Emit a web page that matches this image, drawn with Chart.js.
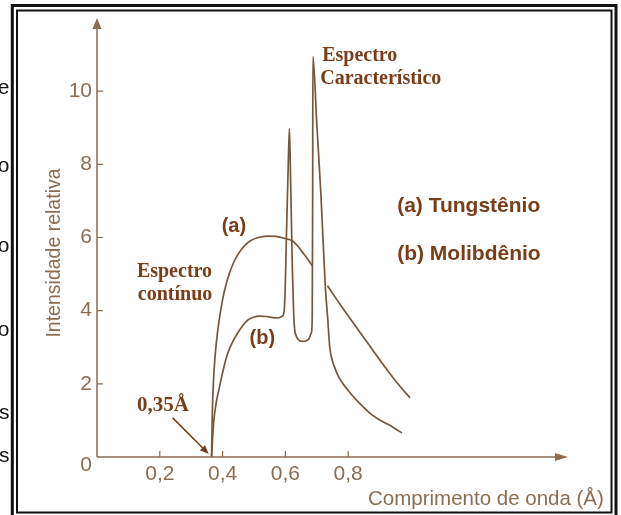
<!DOCTYPE html>
<html>
<head>
<meta charset="utf-8">
<title>Espectro de raios X</title>
<script src="https://cdn.jsdelivr.net/npm/chart.js@4.4.1/dist/chart.umd.min.js"></script>
<style>
  html, body { margin: 0; padding: 0; background: #ffffff; }
  #chart { display: block; }
</style>
</head>
<body>
<canvas id="chart" width="621" height="515"></canvas>
<script>
// Espectro de raios X: (a) tungstênio e (b) molibdênio

// (a) Tungstênio - contínuo (passa por trás dos picos do Mo)
const wavelengthW = [0.365, 0.3667, 0.3705, 0.376, 0.383, 0.391, 0.400, 0.410, 0.422, 0.436, 0.452, 0.470, 0.490, 0.515, 0.545, 0.570, 0.597, 0.622, 0.640, 0.654, 0.670, 0.686, 0.710, 0.734, 0.760, 0.790, 0.820, 0.850, 0.880, 0.910, 0.940, 0.970, 0.997]
const intensityW = [0, 1.0, 2.0, 2.75, 3.35, 3.85, 4.3, 4.68, 5.03, 5.33, 5.58, 5.78, 5.92, 6.00, 6.04, 6.03, 5.98, 5.91, 5.76, 5.60, 5.42, 5.22, null, 4.68, 4.35, 3.98, 3.62, 3.26, 2.90, 2.54, 2.20, 1.88, 1.62]

// (b) Molibdênio - contínuo + picos K-beta e K-alfa
const wavelengthMo = [0.365, 0.368, 0.3724, 0.380, 0.3905, 0.403, 0.417, 0.432, 0.449, 0.465, 0.480, 0.498, 0.517, 0.540, 0.560, 0.575, 0.588, 0.595, 0.599, 0.603, 0.608, 0.6127, 0.6159, 0.619, 0.6222, 0.6254, 0.6286, 0.635, 0.644, 0.654, 0.664, 0.673, 0.683, 0.6855, 0.6868, 0.6875, 0.700, 0.7133, 0.727, 0.735, 0.741, 0.747, 0.756, 0.767, 0.781, 0.800, 0.825, 0.850, 0.876, 0.903, 0.930, 0.952, 0.971]
const intensityMo = [0, 0.5, 1.02, 1.5, 1.93, 2.42, 2.85, 3.15, 3.40, 3.60, 3.74, 3.82, 3.85, 3.84, 3.81, 3.80, 3.84, 3.93, 4.5, 5.96, 7.61, 8.98, 7.88, 6.51, 5.14, 4.18, 3.57, 3.30, 3.19, 3.16, 3.17, 3.21, 3.41, 3.85, 7.0, 10.95, 9.1, 7.14, 4.67, 3.76, 3.02, 2.72, 2.47, 2.24, 2.03, 1.82, 1.57, 1.35, 1.15, 1.00, 0.88, 0.76, 0.66]

const yTickValues = [2, 4, 6, 8, 10]
const xTickValues = [0.2, 0.4, 0.6, 0.8]
const xTickLabels = ["0,2", "0,4", "0,6", "0,8"]

const lineColor = "#74573d"
const axisColor = "#8b6d53"
const noteColor = "#7a3d17"
const serifBold = "bold 20px 'Liberation Serif', 'Times New Roman', serif"
const sansBold = "bold 20px 'Liberation Sans', Arial, sans-serif"
const sansBoldBig = "bold 21px 'Liberation Sans', Arial, sans-serif"

// textos anotados (posição em unidades dos eixos, linha de base)
const notes = [
  { text: "Espectro", x: 0.717, y: 10.82, font: serifBold },
  { text: "Característico", x: 0.711, y: 10.19, font: serifBold },
  { text: "Espectro", x: 0.127, y: 4.92, font: serifBold },
  { text: "contínuo", x: 0.130, y: 4.29, font: serifBold },
  { text: "(a)", x: 0.397, y: 6.15, font: sansBold },
  { text: "(b)", x: 0.486, y: 3.10, font: sansBold },
  { text: "0,35Å", x: 0.127, y: 1.26, font: "bold 21px 'Liberation Serif', 'Times New Roman', serif" },
  { text: "(a) Tungstênio", x: 0.956, y: 6.70, font: sansBoldBig },
  { text: "(b) Molibdênio", x: 0.956, y: 5.38, font: sansBoldBig },
]

// letras cortadas à esquerda do quadro
const edgeLetters = [["e", 88], ["o", 166], ["o", 246], ["o", 330], ["s", 413], ["s", 456]]

function toPoints(xs, ys) {
  return xs.map((x, i) => ({ x: x, y: ys[i] }))
}

function arrowHead(ctx, x1, y1, x2, y2, len, half) {
  const a = Math.atan2(y2 - y1, x2 - x1)
  ctx.beginPath()
  ctx.moveTo(x2, y2)
  ctx.lineTo(x2 - len * Math.cos(a) + half * Math.sin(a), y2 - len * Math.sin(a) - half * Math.cos(a))
  ctx.lineTo(x2 - len * Math.cos(a) - half * Math.sin(a), y2 - len * Math.sin(a) + half * Math.cos(a))
  ctx.closePath()
  ctx.fill()
}

const framePlugin = {
  id: "frame",
  beforeDraw(chart) {
    const ctx = chart.ctx
    ctx.save()
    ctx.fillStyle = "#ffffff"
    ctx.fillRect(0, 0, chart.width, chart.height)

    ctx.strokeStyle = "#111111"
    ctx.lineWidth = 3
    ctx.strokeRect(12.3, 5.5, 603.7, 512)
    ctx.lineWidth = 2
    ctx.strokeRect(17, 10.5, 594.5, 502)

    ctx.fillStyle = "#111111"
    ctx.font = "21px 'Liberation Sans', Arial, sans-serif"
    ctx.textAlign = "right"
    ctx.textBaseline = "middle"
    edgeLetters.forEach(([ch, y]) => ctx.fillText(ch, 9.5, y))
    ctx.restore()
  },
  afterDraw(chart) {
    const ctx = chart.ctx
    const xs = chart.scales.x
    const ys = chart.scales.y
    const area = chart.chartArea
    ctx.save()

    // eixos com setas
    ctx.strokeStyle = axisColor
    ctx.fillStyle = axisColor
    ctx.lineWidth = 1.5
    ctx.beginPath()
    ctx.moveTo(area.left, area.bottom)
    ctx.lineTo(area.left, area.top + 6)
    ctx.moveTo(area.left, area.bottom)
    ctx.lineTo(area.right - 6, area.bottom)
    ctx.stroke()
    arrowHead(ctx, area.left, area.bottom, area.left, area.top, 11, 4.5)
    arrowHead(ctx, area.left, area.bottom, area.right, area.bottom, 13, 4)

    // marcas dos ticks (para dentro)
    ctx.lineWidth = 1.2
    ctx.beginPath()
    yTickValues.forEach((v) => {
      const py = ys.getPixelForValue(v)
      ctx.moveTo(area.left, py)
      ctx.lineTo(area.left + 6, py)
    })
    xTickValues.forEach((v) => {
      const px = xs.getPixelForValue(v)
      ctx.moveTo(px, area.bottom)
      ctx.lineTo(px, area.bottom - 6)
    })
    ctx.stroke()

    // rótulo 0 do eixo y (um pouco abaixo)
    ctx.font = "21px 'Liberation Sans', Arial, sans-serif"
    ctx.textAlign = "right"
    ctx.textBaseline = "middle"
    ctx.fillText("0", area.left - 5, ys.getPixelForValue(0) + 8)

    // títulos dos eixos
    ctx.font = "19.5px 'Liberation Sans', Arial, sans-serif"
    ctx.textAlign = "center"
    ctx.save()
    ctx.translate(55, 253)
    ctx.rotate(-Math.PI / 2)
    ctx.fillText("Intensidade relativa", 0, 0)
    ctx.restore()
    ctx.font = "20.5px 'Liberation Sans', Arial, sans-serif"
    ctx.textAlign = "left"
    ctx.textBaseline = "alphabetic"
    ctx.fillText("Comprimento de onda (Å)", 368, 505)

    // anotações
    ctx.fillStyle = noteColor
    notes.forEach((n) => {
      ctx.font = n.font
      ctx.fillText(n.text, xs.getPixelForValue(n.x), ys.getPixelForValue(n.y))
    })

    // seta do 0,35 Å
    const ax1 = xs.getPixelForValue(0.241), ay1 = ys.getPixelForValue(1.07)
    const ax2 = xs.getPixelForValue(0.356), ay2 = ys.getPixelForValue(0.08)
    ctx.strokeStyle = noteColor
    ctx.lineWidth = 1.5
    ctx.beginPath()
    ctx.moveTo(ax1, ay1)
    ctx.lineTo(ax2 - 4, ay2 - 4)
    ctx.stroke()
    arrowHead(ctx, ax1, ay1, ax2, ay2, 9, 3.5)

    ctx.restore()
  },
}

new Chart(document.getElementById("chart"), {
  type: "line",
  data: {
    datasets: [
      {
        label: "(a) Tungstênio",
        data: toPoints(wavelengthW, intensityW),
        borderColor: lineColor,
        borderWidth: 1.7,
        pointRadius: 0,
        fill: false,
        spanGaps: false,
        cubicInterpolationMode: "monotone",
      },
      {
        label: "(b) Molibdênio",
        data: toPoints(wavelengthMo, intensityMo),
        borderColor: lineColor,
        borderWidth: 1.7,
        pointRadius: 0,
        fill: false,
        cubicInterpolationMode: "monotone",
      },
    ],
  },
  options: {
    responsive: false,
    animation: false,
    devicePixelRatio: 1,
    layout: {
      padding: { left: 0, top: 18, right: 53, bottom: 0 },
    },
    plugins: {
      legend: { display: false },
      tooltip: { enabled: false },
    },
    scales: {
      x: {
        type: "linear",
        min: 0,
        max: 1.5,
        grid: { display: false, drawTicks: false },
        border: { display: false },
        afterFit: (scale) => {
          scale.height = 58
        },
        ticks: {
          stepSize: 0.2,
          autoSkip: false,
          maxRotation: 0,
          padding: 5,
          color: axisColor,
          font: { family: "'Liberation Sans', Arial, sans-serif", size: 21 },
          callback: (value) => {
            const i = xTickValues.findIndex((v) => Math.abs(v - value) < 1e-6)
            return i >= 0 ? xTickLabels[i] : ""
          },
        },
      },
      y: {
        min: 0,
        max: 12,
        grid: { display: false, drawTicks: false },
        border: { display: false },
        afterFit: (scale) => {
          scale.width = 97
        },
        ticks: {
          stepSize: 2,
          padding: 5,
          color: axisColor,
          font: { family: "'Liberation Sans', Arial, sans-serif", size: 21 },
          callback: (value) => (yTickValues.includes(value) ? String(value) : ""),
        },
      },
    },
  },
  plugins: [framePlugin],
})
</script>
</body>
</html>
